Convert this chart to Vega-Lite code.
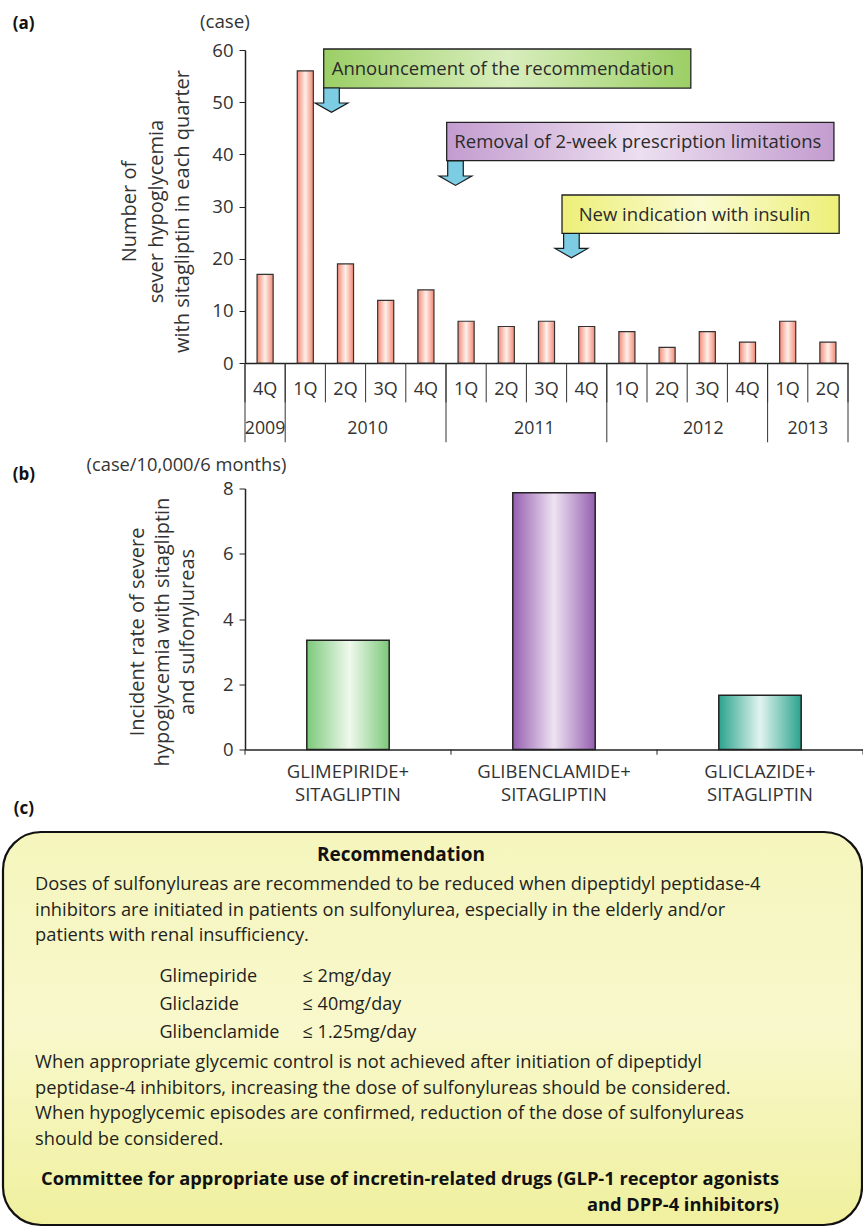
{
  "$schema": "https://vega.github.io/schema/vega-lite/v6.json",
  "padding": {"left": 1, "top": 13, "right": 0, "bottom": 0},
  "spacing": 12.5,
  "config": {
    "view": {"stroke": null},
    "font": "Open Sans",
    "axis": {"grid": false},
    "text": {"font": "Open Sans"}
  },
  "datasets": {
    "quarters": [
      {"period": "2009 4Q", "cases": 17},
      {"period": "2010 1Q", "cases": 56},
      {"period": "2010 2Q", "cases": 19},
      {"period": "2010 3Q", "cases": 12},
      {"period": "2010 4Q", "cases": 14},
      {"period": "2011 1Q", "cases": 8},
      {"period": "2011 2Q", "cases": 7},
      {"period": "2011 3Q", "cases": 8},
      {"period": "2011 4Q", "cases": 7},
      {"period": "2012 1Q", "cases": 6},
      {"period": "2012 2Q", "cases": 3},
      {"period": "2012 3Q", "cases": 6},
      {"period": "2012 4Q", "cases": 4},
      {"period": "2013 1Q", "cases": 8},
      {"period": "2013 2Q", "cases": 4}
    ],
    "notes": [
      {"id": 1, "note": "Announcement of the recommendation", "x1": 1.958, "x2": 11.09, "top": 60.19, "bottom": 52.71, "tx": 2.157, "ty": 56.36, "ax": 2.152, "ay": 50.38},
      {"id": 2, "note": "Removal of 2-week prescription limitations", "x1": 5.017, "x2": 14.65, "top": 46.12, "bottom": 38.78, "tx": 5.207, "ty": 42.29, "ax": 5.236, "ay": 36.38},
      {"id": 3, "note": "New indication with insulin", "x1": 7.886, "x2": 14.78, "top": 32.2, "bottom": 24.84, "tx": 8.3, "ty": 28.43, "ax": 8.12, "ay": 22.49}
    ],
    "years": [
      {"year": "2009", "qx": 0.5},
      {"year": "2010", "qx": 3.05},
      {"year": "2011", "qx": 7.2},
      {"year": "2012", "qx": 11.4},
      {"year": "2013", "qx": 14.0}
    ],
    "quarterBounds": [{"qx": 0}, {"qx": 1}, {"qx": 2}, {"qx": 3}, {"qx": 4}, {"qx": 5}, {"qx": 6}, {"qx": 7}, {"qx": 8}, {"qx": 9}, {"qx": 10}, {"qx": 11}, {"qx": 12}, {"qx": 13}, {"qx": 14}, {"qx": 15}],
    "yearBounds": [{"qx": 0}, {"qx": 1}, {"qx": 5}, {"qx": 9}, {"qx": 13}, {"qx": 15}],
    "drugBounds": [{"qx": 0}, {"qx": 1}, {"qx": 2}, {"qx": 3}],
    "drugs": [
      {"drug": "GLIMEPIRIDE", "rate": 3.35},
      {"drug": "GLIBENCLAMIDE", "rate": 7.87},
      {"drug": "GLICLAZIDE", "rate": 1.66}
    ],
    "recommendation": [
      {"part": "heading", "lines": ["Recommendation"]},
      {"part": "para1", "lines": ["Doses of sulfonylureas are recommended to be reduced when dipeptidyl peptidase-4", "inhibitors are initiated in patients on sulfonylurea, especially in the elderly and/or", "patients with renal insufficiency."]},
      {"part": "col1", "lines": ["Glimepiride", "Gliclazide", "Glibenclamide"]},
      {"part": "col2", "lines": ["≤ 2mg/day", "≤ 40mg/day", "≤ 1.25mg/day"]},
      {"part": "para2", "lines": ["When appropriate glycemic control is not achieved after initiation of dipeptidyl", "peptidase-4 inhibitors, increasing the dose of sulfonylureas should be considered.", "When hypoglycemic episodes are confirmed, reduction of the dose of sulfonylureas", "should be considered."]},
      {"part": "committee", "lines": ["Committee for appropriate use of incretin-related drugs (GLP-1 receptor agonists", "and DPP-4 inhibitors)"]}
    ]
  },
  "vconcat": [
    {
      "width": 603,
      "height": 313,
      "resolve": {"scale": {"x": "independent"}, "axis": {"x": "independent", "y": "independent"}},
      "layer": [
        {
          "data": {"name": "quarters"},
          "mark": {
            "type": "bar",
            "fill": {"gradient": "linear", "x1": 0, "y1": 0, "x2": 1, "y2": 0, "stops": [{"offset": 0, "color": "#f28a76"}, {"offset": 0.5, "color": "#fff0ea"}, {"offset": 1, "color": "#f28a76"}]},
            "stroke": "#333333",
            "strokeWidth": 1.2
          },
          "encoding": {
            "x": {
              "field": "period", "type": "ordinal", "sort": null,
              "scale": {"paddingInner": 0.6, "paddingOuter": 0.3},
              "axis": {
                "title": null, "labelAngle": 0, "labelExpr": "split(datum.label, ' ')[1]",
                "ticks": false, "tickSize": 0,
                "domainColor": "#222222", "domainWidth": 1.5,
                "labelFontSize": 18, "labelColor": "#333333", "labelBaseline": "middle", "labelPadding": 26
              }
            },
            "y": {
              "field": "cases", "type": "quantitative",
              "scale": {"domain": [0, 60], "nice": false},
              "axis": {
                "values": [0, 10, 20, 30, 40, 50, 60],
                "title": ["Number of", "sever hypoglycemia", "with sitagliptin in each quarter"],
                "titleFontSize": 20, "titleFontWeight": "normal", "titleColor": "#333333", "titleLineHeight": 26.5,
                "titlePadding": 19, "titleY": 161,
                "tickSize": 6, "tickColor": "#222222", "domainColor": "#222222", "domainWidth": 1.5,
                "labelFontSize": 18.5, "labelColor": "#333333", "labelPadding": 6
              }
            }
          }
        },
        {
          "layer": [
            {
              "data": {"name": "notes"},
              "transform": [{"filter": "datum.id === 1"}],
              "mark": {"type": "rect", "fill": {"gradient": "linear", "x1": 0, "y1": 0, "x2": 1, "y2": 0, "stops": [{"offset": 0, "color": "#9ccf66"}, {"offset": 0.5, "color": "#d8eebd"}, {"offset": 1, "color": "#9ccf66"}]}, "stroke": "#222222", "strokeWidth": 1.3},
              "encoding": {
                "x": {"field": "x1", "type": "quantitative", "scale": {"domain": [0, 15], "nice": false, "zero": false}, "axis": null},
                "x2": {"field": "x2"},
                "y": {"field": "top", "type": "quantitative", "scale": {"domain": [0, 60], "nice": false}, "axis": null},
                "y2": {"field": "bottom"}
              }
            },
            {
              "data": {"name": "notes"},
              "transform": [{"filter": "datum.id === 2"}],
              "mark": {"type": "rect", "fill": {"gradient": "linear", "x1": 0, "y1": 0, "x2": 1, "y2": 0, "stops": [{"offset": 0, "color": "#c39ccf"}, {"offset": 0.5, "color": "#ecdff0"}, {"offset": 1, "color": "#c39ccf"}]}, "stroke": "#222222", "strokeWidth": 1.3},
              "encoding": {
                "x": {"field": "x1", "type": "quantitative", "scale": {"domain": [0, 15], "nice": false, "zero": false}, "axis": null},
                "x2": {"field": "x2"},
                "y": {"field": "top", "type": "quantitative", "scale": {"domain": [0, 60], "nice": false}, "axis": null},
                "y2": {"field": "bottom"}
              }
            },
            {
              "data": {"name": "notes"},
              "transform": [{"filter": "datum.id === 3"}],
              "mark": {"type": "rect", "fill": {"gradient": "linear", "x1": 0, "y1": 0, "x2": 1, "y2": 0, "stops": [{"offset": 0, "color": "#edef78"}, {"offset": 0.5, "color": "#fafbd3"}, {"offset": 1, "color": "#edef78"}]}, "stroke": "#222222", "strokeWidth": 1.3},
              "encoding": {
                "x": {"field": "x1", "type": "quantitative", "scale": {"domain": [0, 15], "nice": false, "zero": false}, "axis": null},
                "x2": {"field": "x2"},
                "y": {"field": "top", "type": "quantitative", "scale": {"domain": [0, 60], "nice": false}, "axis": null},
                "y2": {"field": "bottom"}
              }
            },
            {
              "data": {"name": "notes"},
              "mark": {"type": "point", "shape": "M-0.477,-0.746L0.477,-0.746L0.477,0.171L1,0.171L0,0.746L-1,0.171L-0.477,0.171Z", "size": 1069, "filled": true, "fill": "#7ccde3", "stroke": "#1a1a1a", "strokeWidth": 1.2, "opacity": 1},
              "encoding": {
                "x": {"field": "ax", "type": "quantitative", "scale": {"domain": [0, 15], "nice": false, "zero": false}, "axis": null},
                "y": {"field": "ay", "type": "quantitative", "scale": {"domain": [0, 60], "nice": false}, "axis": null}
              }
            },
            {
              "data": {"name": "notes"},
              "mark": {"type": "text", "align": "left", "baseline": "middle", "fontSize": 18.5, "fill": "#2b2b2b"},
              "encoding": {
                "x": {"field": "tx", "type": "quantitative", "scale": {"domain": [0, 15], "nice": false, "zero": false}, "axis": null},
                "y": {"field": "ty", "type": "quantitative", "scale": {"domain": [0, 60], "nice": false}, "axis": null},
                "text": {"field": "note"}
              }
            },
            {
              "data": {"name": "quarterBounds"},
              "mark": {"type": "rule", "color": "#333333", "strokeWidth": 1},
              "encoding": {
                "x": {"field": "qx", "type": "quantitative", "scale": {"domain": [0, 15], "nice": false, "zero": false}, "axis": null},
                "y": {"datum": 0, "type": "quantitative", "scale": {"domain": [0, 60], "nice": false}, "axis": null},
                "y2": {"datum": -7.55}
              }
            },
            {
              "data": {"name": "yearBounds"},
              "mark": {"type": "rule", "color": "#333333", "strokeWidth": 1},
              "encoding": {
                "x": {"field": "qx", "type": "quantitative", "scale": {"domain": [0, 15], "nice": false, "zero": false}, "axis": null},
                "y": {"datum": 0, "type": "quantitative", "scale": {"domain": [0, 60], "nice": false}, "axis": null},
                "y2": {"datum": -15.2}
              }
            },
            {
              "data": {"name": "years"},
              "mark": {"type": "text", "align": "center", "baseline": "middle", "fontSize": 17.8, "fill": "#333333"},
              "encoding": {
                "x": {"field": "qx", "type": "quantitative", "scale": {"domain": [0, 15], "nice": false, "zero": false}, "axis": null},
                "y": {"datum": -12.6, "type": "quantitative", "scale": {"domain": [0, 60], "nice": false}, "axis": null},
                "text": {"field": "year"}
              }
            },
            {
              "data": {"values": [{"label": "(a)", "qx": -5.78, "qy": 65.0}]},
              "mark": {"type": "text", "align": "left", "baseline": "middle", "fontSize": 17, "fontWeight": "bold", "fill": "#111111"},
              "encoding": {
                "x": {"field": "qx", "type": "quantitative", "scale": {"domain": [0, 15], "nice": false, "zero": false}, "axis": null},
                "y": {"field": "qy", "type": "quantitative", "scale": {"domain": [0, 60], "nice": false}, "axis": null},
                "text": {"field": "label"}
              }
            },
            {
              "data": {"values": [{"label": "(case)", "qx": -0.5, "qy": 65.3}]},
              "mark": {"type": "text", "align": "center", "baseline": "middle", "fontSize": 18.8, "fill": "#333333"},
              "encoding": {
                "x": {"field": "qx", "type": "quantitative", "scale": {"domain": [0, 15], "nice": false, "zero": false}, "axis": null},
                "y": {"field": "qy", "type": "quantitative", "scale": {"domain": [0, 60], "nice": false}, "axis": null},
                "text": {"field": "label"}
              }
            }
          ]
        }
      ]
    },
    {
      "width": 618,
      "height": 261,
      "resolve": {"scale": {"x": "independent"}, "axis": {"x": "independent", "y": "independent"}},
      "layer": [
        {
          "resolve": {"axis": {"x": "independent", "y": "independent"}},
          "layer": [
            {
              "data": {"name": "drugs"},
              "transform": [{"filter": "datum.drug === 'GLIMEPIRIDE'"}],
              "mark": {"type": "bar", "fill": {"gradient": "linear", "x1": 0, "y1": 0, "x2": 1, "y2": 0, "stops": [{"offset": 0, "color": "#7cc97a"}, {"offset": 0.52, "color": "#eff9ed"}, {"offset": 1, "color": "#7cc97a"}]}, "stroke": "#222222", "strokeWidth": 1.5},
              "encoding": {
                "x": {
                  "field": "drug", "type": "nominal",
                  "scale": {"domain": ["GLIMEPIRIDE", "GLIBENCLAMIDE", "GLICLAZIDE"], "paddingInner": 0.6, "paddingOuter": 0.3},
                  "axis": {
                    "title": null, "labelAngle": 0, "labelExpr": "[datum.label + '+', 'SITAGLIPTIN']",
                    "ticks": false, "tickSize": 0,
                    "domainColor": "#222222", "domainWidth": 1.5,
                    "labelFontSize": 18.5, "labelColor": "#333333", "labelBaseline": "top", "labelPadding": 13, "labelLineHeight": 22.5
                  }
                },
                "y": {
                  "field": "rate", "type": "quantitative",
                  "scale": {"domain": [0, 8], "nice": false},
                  "axis": {
                    "values": [0, 2, 4, 6, 8],
                    "title": ["Incident rate of severe", "hypoglycemia with sitagliptin", "and sulfonylureas"],
                    "titleFontSize": 20, "titleFontWeight": "normal", "titleColor": "#333333", "titleLineHeight": 25,
                    "titlePadding": 25, "titleY": 143,
                    "tickSize": 6, "tickColor": "#222222", "domainColor": "#222222", "domainWidth": 1.5,
                    "labelFontSize": 18.5, "labelColor": "#333333", "labelPadding": 6
                  }
                }
              }
            },
            {
              "data": {"name": "drugs"},
              "transform": [{"filter": "datum.drug === 'GLIBENCLAMIDE'"}],
              "mark": {"type": "bar", "fill": {"gradient": "linear", "x1": 0, "y1": 0, "x2": 1, "y2": 0, "stops": [{"offset": 0, "color": "#965fb1"}, {"offset": 0.5, "color": "#eee3f2"}, {"offset": 1, "color": "#965fb1"}]}, "stroke": "#222222", "strokeWidth": 1.5},
              "encoding": {
                "x": {"field": "drug", "type": "nominal", "scale": {"domain": ["GLIMEPIRIDE", "GLIBENCLAMIDE", "GLICLAZIDE"], "paddingInner": 0.6, "paddingOuter": 0.3}, "axis": null},
                "y": {"field": "rate", "type": "quantitative", "scale": {"domain": [0, 8], "nice": false}, "axis": null}
              }
            },
            {
              "data": {"name": "drugs"},
              "transform": [{"filter": "datum.drug === 'GLICLAZIDE'"}],
              "mark": {"type": "bar", "fill": {"gradient": "linear", "x1": 0, "y1": 0, "x2": 1, "y2": 0, "stops": [{"offset": 0, "color": "#2ba38d"}, {"offset": 0.5, "color": "#e1f4ee"}, {"offset": 1, "color": "#2ba38d"}]}, "stroke": "#222222", "strokeWidth": 1.5},
              "encoding": {
                "x": {"field": "drug", "type": "nominal", "scale": {"domain": ["GLIMEPIRIDE", "GLIBENCLAMIDE", "GLICLAZIDE"], "paddingInner": 0.6, "paddingOuter": 0.3}, "axis": null},
                "y": {"field": "rate", "type": "quantitative", "scale": {"domain": [0, 8], "nice": false}, "axis": null}
              }
            }
          ]
        },
        {
          "layer": [
            {
              "data": {"name": "drugBounds"},
              "mark": {"type": "rule", "color": "#222222", "strokeWidth": 1},
              "encoding": {
                "x": {"field": "qx", "type": "quantitative", "scale": {"domain": [0, 3], "nice": false, "zero": false}, "axis": null},
                "y": {"datum": 0, "type": "quantitative", "scale": {"domain": [0, 8], "nice": false}, "axis": null},
                "y2": {"datum": -0.16}
              }
            },
            {
              "data": {"values": [{"label": "(b)", "qx": -1.128, "qy": 8.42}, {"label": "(c)", "qx": -1.123, "qy": -1.82}]},
              "mark": {"type": "text", "align": "left", "baseline": "middle", "fontSize": 17, "fontWeight": "bold", "fill": "#111111"},
              "encoding": {
                "x": {"field": "qx", "type": "quantitative", "scale": {"domain": [0, 3], "nice": false, "zero": false}, "axis": null},
                "y": {"field": "qy", "type": "quantitative", "scale": {"domain": [0, 8], "nice": false}, "axis": null},
                "text": {"field": "label"}
              }
            },
            {
              "data": {"values": [{"label": "(case/10,000/6 months)", "qx": -0.284, "qy": 8.7}]},
              "mark": {"type": "text", "align": "center", "baseline": "middle", "fontSize": 18.3, "fill": "#333333"},
              "encoding": {
                "x": {"field": "qx", "type": "quantitative", "scale": {"domain": [0, 3], "nice": false, "zero": false}, "axis": null},
                "y": {"field": "qy", "type": "quantitative", "scale": {"domain": [0, 8], "nice": false}, "axis": null},
                "text": {"field": "label"}
              }
            }
          ]
        }
      ]
    },
    {
      "width": 617,
      "height": 393,
      "layer": [
        {
          "data": {"values": [{"panel": "c"}]},
          "mark": {"type": "rect", "cornerRadius": 38, "fill": {"gradient": "linear", "x1": 0, "y1": 0, "x2": 0, "y2": 1, "stops": [{"offset": 0, "color": "#f5f5bd"}, {"offset": 0.5, "color": "#f8f8cc"}, {"offset": 1, "color": "#f0f09e"}]}, "stroke": "#111111", "strokeWidth": 2.2},
          "encoding": {
            "x": {"datum": 0, "type": "quantitative", "scale": {"domain": [0, 100], "range": [-242, 617], "nice": false, "zero": false}, "axis": null},
            "x2": {"datum": 100},
            "y": {"datum": 0, "type": "quantitative", "scale": {"domain": [0, 100], "range": [0, 393], "nice": false, "zero": false}, "axis": null},
            "y2": {"datum": 100}
          }
        },
        {
          "data": {"name": "recommendation"},
          "transform": [{"filter": "datum.part === 'heading'"}],
          "mark": {"type": "text", "align": "center", "baseline": "middle", "fontSize": 19, "fontWeight": "bold", "fill": "#111111"},
          "encoding": {
            "x": {"datum": 46.33, "type": "quantitative", "scale": {"domain": [0, 100], "range": [-242, 617], "nice": false, "zero": false}, "axis": null},
            "y": {"datum": 5.85, "type": "quantitative", "scale": {"domain": [0, 100], "range": [0, 393], "nice": false, "zero": false}, "axis": null},
            "text": {"field": "lines"}
          }
        },
        {
          "data": {"name": "recommendation"},
          "transform": [{"filter": "datum.part === 'para1'"}],
          "mark": {"type": "text", "align": "left", "baseline": "middle", "fontSize": 18.3, "lineHeight": 25.5, "fill": "#231f20"},
          "encoding": {
            "x": {"datum": 3.73, "type": "quantitative", "scale": {"domain": [0, 100], "range": [-242, 617], "nice": false, "zero": false}, "axis": null},
            "y": {"datum": 13.49, "type": "quantitative", "scale": {"domain": [0, 100], "range": [0, 393], "nice": false, "zero": false}, "axis": null},
            "text": {"field": "lines"}
          }
        },
        {
          "data": {"name": "recommendation"},
          "transform": [{"filter": "datum.part === 'col1'"}],
          "mark": {"type": "text", "align": "left", "baseline": "middle", "fontSize": 18, "lineHeight": 28, "fill": "#231f20"},
          "encoding": {
            "x": {"datum": 18.22, "type": "quantitative", "scale": {"domain": [0, 100], "range": [-242, 617], "nice": false, "zero": false}, "axis": null},
            "y": {"datum": 36.9, "type": "quantitative", "scale": {"domain": [0, 100], "range": [0, 393], "nice": false, "zero": false}, "axis": null},
            "text": {"field": "lines"}
          }
        },
        {
          "data": {"name": "recommendation"},
          "transform": [{"filter": "datum.part === 'col2'"}],
          "mark": {"type": "text", "align": "left", "baseline": "middle", "fontSize": 18, "lineHeight": 28, "fill": "#231f20"},
          "encoding": {
            "x": {"datum": 34.88, "type": "quantitative", "scale": {"domain": [0, 100], "range": [-242, 617], "nice": false, "zero": false}, "axis": null},
            "y": {"datum": 36.9, "type": "quantitative", "scale": {"domain": [0, 100], "range": [0, 393], "nice": false, "zero": false}, "axis": null},
            "text": {"field": "lines"}
          }
        },
        {
          "data": {"name": "recommendation"},
          "transform": [{"filter": "datum.part === 'para2'"}],
          "mark": {"type": "text", "align": "left", "baseline": "middle", "fontSize": 18.3, "lineHeight": 25.5, "fill": "#231f20"},
          "encoding": {
            "x": {"datum": 3.73, "type": "quantitative", "scale": {"domain": [0, 100], "range": [-242, 617], "nice": false, "zero": false}, "axis": null},
            "y": {"datum": 58.78, "type": "quantitative", "scale": {"domain": [0, 100], "range": [0, 393], "nice": false, "zero": false}, "axis": null},
            "text": {"field": "lines"}
          }
        },
        {
          "data": {"name": "recommendation"},
          "transform": [{"filter": "datum.part === 'committee'"}],
          "mark": {"type": "text", "align": "right", "baseline": "middle", "fontSize": 18.3, "lineHeight": 26, "fontWeight": "bold", "fill": "#111111"},
          "encoding": {
            "x": {"datum": 90.34, "type": "quantitative", "scale": {"domain": [0, 100], "range": [-242, 617], "nice": false, "zero": false}, "axis": null},
            "y": {"datum": 88.43, "type": "quantitative", "scale": {"domain": [0, 100], "range": [0, 393], "nice": false, "zero": false}, "axis": null},
            "text": {"field": "lines"}
          }
        }
      ]
    }
  ]
}
